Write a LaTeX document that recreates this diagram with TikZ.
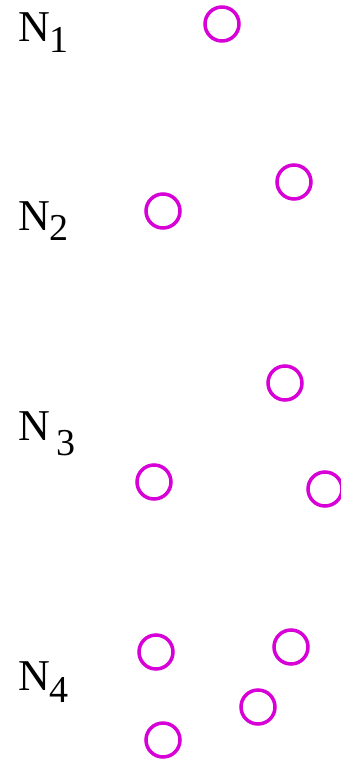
\documentclass[tikz,border=0pt]{standalone}
\usepackage{fontspec}
\setmainfont{Liberation Serif}
\usepackage{xcolor}
\usepackage{tikz}
\definecolor{ringmag}{RGB}{215,0,215}
\newcommand{\Nsub}[2][10pt]{N\raisebox{-#1}{\fontsize{38}{40}\selectfont #2}}

\begin{document}
\begin{tikzpicture}[x=1pt, y=-1pt,
  ring/.style={circle, draw=ringmag, line width=3.5pt, minimum size=34pt, inner sep=0pt},
  lbl/.style={anchor=base west, inner sep=0pt, font=\fontsize{44}{48}\selectfont},
]
\useasboundingbox (0,0) rectangle (340,760);
% row labels
\node[lbl] (L1) at (18,42)  {\Nsub{1}};
\node[lbl] (L2) at (18,230) {\Nsub{2}};
\node[lbl] (L3) at (18,440) {\Nsub[15pt]{\,3}};
\node[lbl] (L4) at (18,690) {\Nsub[12pt]{4}};
% N1
\node[ring] (a1) at (222,24) {};
% N2
\node[ring] (b1) at (163,211) {};
\node[ring] (b2) at (294,182) {};
% N3
\node[ring] (c1) at (285,383) {};
\node[ring] (c2) at (154,482) {};
\node[ring] (c3) at (325,489) {};
% N4
\node[ring] (d1) at (156,652) {};
\node[ring] (d2) at (291,647) {};
\node[ring] (d3) at (258,707) {};
\node[ring] (d4) at (163,740) {};
\end{tikzpicture}
\end{document}
